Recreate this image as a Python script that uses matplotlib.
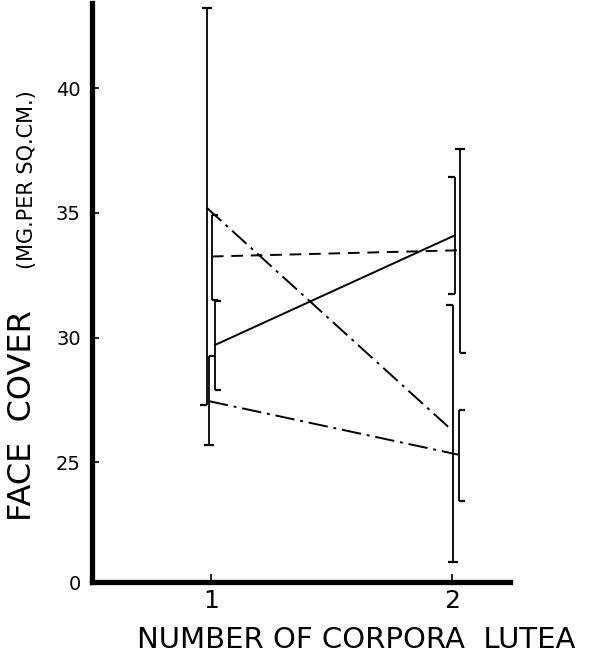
import matplotlib.pyplot as plt
import numpy as np

# face cover vs number of corpora lutea, four groups
corpora = [1, 2]

mean_a = [35.2, 26.25]   # upper dash-dot
low_a = [27.3, 21.0]
high_a = [43.2, 31.3]

mean_b = [33.25, 33.5]   # dashed
low_b = [31.5, 29.4]
high_b = [34.9, 37.55]

mean_c = [29.7, 34.1]    # solid
low_c = [27.9, 31.75]
high_c = [31.45, 36.45]

mean_d = [27.45, 25.3]   # lower dash-dot
low_d = [25.7, 23.45]
high_d = [29.25, 27.1]

y_labels = ['0', '25', '30', '35', '40']
y_ticks = [25, 30, 35, 40]

fig = plt.figure(figsize=(6.12, 6.61), dpi=100)
ax = fig.add_axes([0.150, 0.1195, 0.683, 0.8755])

ybot, ytop = 20.2, 43.4
ax.set_xlim(0.506, 2.24)
ax.set_ylim(ybot, ytop)

px = 1 / 241.0  # one pixel in x data units
cap = 5 * px


def draw_bar(x, lo, hi, top_cap, bot_cap):
    ax.vlines(x, lo, hi, color='black', lw=1.3)
    for y, kind in ((hi, top_cap), (lo, bot_cap)):
        if kind == 'both':
            ax.hlines(y, x - cap, x + cap, color='black', lw=1.6)
        elif kind == 'left':
            ax.hlines(y, x - cap * 1.3, x, color='black', lw=1.6)
        else:
            ax.hlines(y, x, x + cap * 1.3, color='black', lw=1.6)


series = [
    (mean_a, low_a, high_a, [-4, 1], [('both', 'left'), ('left', 'both')], (0, (10, 3, 1.5, 3))),
    (mean_b, low_b, high_b, [1, 8], [('right', 'right'), ('both', 'right')], (0, (6, 4))),
    (mean_c, low_c, high_c, [4, 3], [('right', 'right'), ('left', 'left')], '-'),
    (mean_d, low_d, high_d, [-2, 7], [('right', 'both'), ('right', 'right')], (0, (10, 3, 1.5, 3))),
]

for means, lows, highs, offs, caps, ls in series:
    xs = [c + o * px for c, o in zip(corpora, offs)]
    ax.plot(xs, means, color='black', lw=1.4, linestyle=ls)
    for x, lo, hi, (tc, bc) in zip(xs, lows, highs, caps):
        draw_bar(x, lo, hi, tc, bc)

for side in ['top', 'right']:
    ax.spines[side].set_visible(False)
ax.spines['left'].set_linewidth(3.8)
ax.spines['bottom'].set_linewidth(3.8)

ax.set_yticks([ybot] + y_ticks)
ax.set_yticklabels(y_labels, fontsize=14)
ax.set_xticks(corpora)
ax.set_xticklabels(['1', '2'], fontsize=18)
ax.tick_params(axis='y', direction='in', length=5, width=1.2, pad=8)
ax.tick_params(axis='x', direction='in', length=6, width=1.2, pad=5)

fig.text(23 / 612, (661 - 416) / 661, 'FACE  COVER', rotation=90,
         ha='center', va='center', fontsize=23)
fig.text(27 / 612, (661 - 180) / 661, '(MG.PER SQ.CM.)', rotation=90,
         ha='center', va='center', fontsize=15)
fig.text(356 / 612, (661 - 640) / 661, 'NUMBER OF CORPORA  LUTEA',
         ha='center', va='center', fontsize=21)

fig.savefig('out.png', dpi=100)
